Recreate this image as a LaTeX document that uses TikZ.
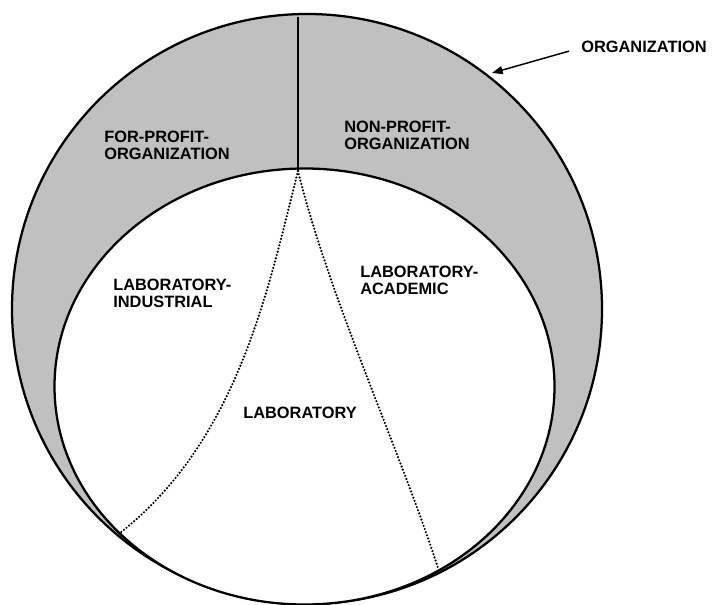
\documentclass[tikz,border=0pt]{standalone}
\usepackage{fontspec}
\setmainfont{Liberation Sans}
\usetikzlibrary{arrows.meta, positioning}

\definecolor{sectorgray}{RGB}{192,192,192}

\begin{document}
\begin{tikzpicture}[
  x=0.75pt, y=-0.75pt,
  rim/.style = {draw, line width=1.7pt},
  border/.style = {line width=1.8pt, line cap=round, dash pattern=on 0pt off 2.5pt},
  label/.style = {inner sep=0pt, anchor=north west, align=left,
                  font=\fontsize{12.3}{12.8}\selectfont\bfseries},
  pointer/.style = {draw, line width=1.1pt, -{Triangle[length=8pt, width=6pt]}}
  ]

  \useasboundingbox (0,0) rectangle (712,605);

    % Organization and its two halves
  \draw[rim, fill=sectorgray] (307,309) circle [x radius=295, y radius=295];
  \draw[rim, fill=white] (304.5,386.5) circle [x radius=250, y radius=218];
  \coordinate (split top) at (298,17);
  \coordinate (split bottom) at (298,171);
  \draw[rim] (split top) -- (split bottom);

    % Laboratory boundaries
  \coordinate (industrial end) at (120,533);
  \coordinate (academic end) at (438,568);
  \draw[border] (split bottom) .. controls (268,290) and (238,440) .. (industrial end);
  \draw[border] (split bottom) .. controls (330,300) and (400,450) .. (academic end);

    % Labels
  \node[label] (forprofit) at (104,131) {FOR-PROFIT-\\ORGANIZATION};
  \node[label] (nonprofit) at (344,121) {NON-PROFIT-\\ORGANIZATION};
  \node[label] (industrial) at (113,279) {LABORATORY-\\INDUSTRIAL};
  \node[label] (academic) at (360,266) {LABORATORY-\\ACADEMIC};
  \node[label] (laboratory) at (243,407) {LABORATORY};

  \node[label] (orglabel) at (581,41) {ORGANIZATION};
  \coordinate (orgrim) at (492,73);
  \draw[pointer] (orglabel.south west) ++(-12,-2) -- (orgrim);

\end{tikzpicture}
\end{document}
